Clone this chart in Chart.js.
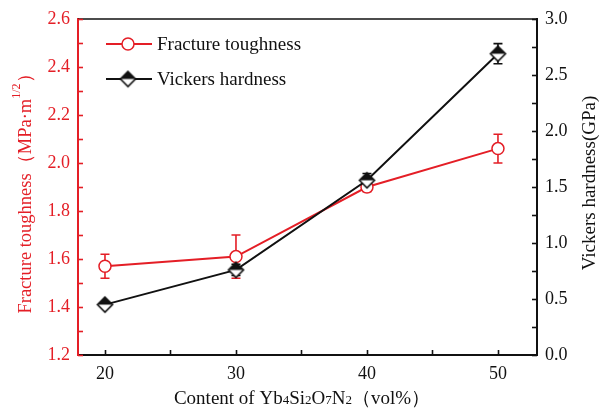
<!DOCTYPE html>
<html><head><meta charset="utf-8">
<script src="https://cdn.jsdelivr.net/npm/chart.js@4"></script>
<style>html,body{margin:0;padding:0;background:#fff}#wrap{width:605px;height:410px}</style>
</head><body><div id="wrap"><canvas id="c" width="605" height="410"></canvas></div>
<script>
const contents = [20, 30, 40, 50];
const toughness = [1.57, 1.61, 1.90, 2.06];
const toughnessErr = [0.05, 0.09, 0.02, 0.06];
const hardness = [0.45, 0.76, 1.56, 2.69];
const hardnessErr = [0.02, 0.05, 0.06, 0.09];
const xTicks = [20, 25, 30, 35, 40, 45, 50];
const xLabels = ['20', '', '30', '', '40', '', '50'];
const leftTicks = [1.2, 1.3, 1.4, 1.5, 1.6, 1.7, 1.8, 1.9, 2.0, 2.1, 2.2, 2.3, 2.4, 2.5, 2.6];
const leftLabels = ['1.2', '', '1.4', '', '1.6', '', '1.8', '', '2.0', '', '2.2', '', '2.4', '', '2.6'];
const rightTicks = [0, 0.25, 0.5, 0.75, 1.0, 1.25, 1.5, 1.75, 2.0, 2.25, 2.5, 2.75, 3.0];
const rightLabels = ['0.0', '', '0.5', '', '1.0', '', '1.5', '', '2.0', '', '2.5', '', '3.0'];
const seriesNames = ['Fracture toughness', 'Vickers hardness'];

const RED = 'rgb(228,30,38)';
const BLACK = '#111';
const SERIF = '"Liberation Serif", "Times New Roman", serif';

function makeDiamond(r) {
  const s = 2 * r + 4;
  const cv = document.createElement('canvas');
  cv.width = s; cv.height = s;
  const c = cv.getContext('2d');
  const m = s / 2;
  c.beginPath();
  c.moveTo(m, m - r); c.lineTo(m + r, m); c.lineTo(m, m + r); c.lineTo(m - r, m); c.closePath();
  c.fillStyle = '#fff'; c.fill();
  c.beginPath();
  c.moveTo(m, m - r); c.lineTo(m + r, m); c.lineTo(m - r, m); c.closePath();
  c.fillStyle = BLACK; c.fill();
  c.beginPath();
  c.moveTo(m, m - r); c.lineTo(m + r, m); c.lineTo(m, m + r); c.lineTo(m - r, m); c.closePath();
  c.lineWidth = 1.6; c.strokeStyle = BLACK; c.stroke();
  return cv;
}
const diamond = makeDiamond(7.5);

const errorBars = {
  id: 'errorBars',
  beforeDatasetsDraw(chart) {
    const ctx = chart.ctx;
    const xs = chart.scales.x;
    chart.data.datasets.forEach(ds => {
      const ys = chart.scales[ds.yAxisID];
      ctx.save();
      ctx.strokeStyle = ds.borderColor;
      ctx.lineWidth = 1.6;
      ds.data.forEach((p, i) => {
        const e = ds.errors[i];
        const px = xs.getPixelForValue(p.x);
        const t = ys.getPixelForValue(p.y + e);
        const b = ys.getPixelForValue(p.y - e);
        ctx.beginPath();
        ctx.moveTo(px, t); ctx.lineTo(px, b);
        ctx.moveTo(px - 4.5, t); ctx.lineTo(px + 4.5, t);
        ctx.moveTo(px - 4.5, b); ctx.lineTo(px + 4.5, b);
        ctx.stroke();
      });
      ctx.restore();
    });
  }
};

const inwardTicks = {
  id: 'inwardTicks',
  afterDraw(chart) {
    const ctx = chart.ctx;
    const a = chart.chartArea;
    const L = 5;
    ctx.save();
    ctx.lineWidth = 1.6;
    ctx.strokeStyle = BLACK;
    ctx.beginPath(); ctx.moveTo(a.left, a.top); ctx.lineTo(a.right, a.top); ctx.stroke();
    const xs = chart.scales.x;
    xs.ticks.forEach(t => {
      const px = Math.round(xs.getPixelForValue(t.value)) + 0.5;
      ctx.beginPath(); ctx.moveTo(px, a.bottom); ctx.lineTo(px, a.bottom - L); ctx.stroke();
    });
    const yr = chart.scales.y1;
    yr.ticks.forEach(t => {
      const py = Math.round(yr.getPixelForValue(t.value)) + 0.5;
      ctx.beginPath(); ctx.moveTo(a.right, py); ctx.lineTo(a.right - L, py); ctx.stroke();
    });
    ctx.strokeStyle = RED;
    const yl = chart.scales.y;
    yl.ticks.forEach(t => {
      const py = Math.round(yl.getPixelForValue(t.value)) + 0.5;
      ctx.beginPath(); ctx.moveTo(a.left, py); ctx.lineTo(a.left + L, py); ctx.stroke();
    });
    ctx.restore();
  }
};

const legendAndTitles = {
  id: 'legendAndTitles',
  afterDraw(chart) {
    const ctx = chart.ctx;
    const a = chart.chartArea;
    ctx.save();
    const rows = [{y: a.top + 25, color: RED, circle: true}, {y: a.top + 60, color: BLACK, circle: false}];
    rows.forEach((r, i) => {
      ctx.strokeStyle = r.color; ctx.lineWidth = 2;
      ctx.beginPath(); ctx.moveTo(a.left + 28, r.y); ctx.lineTo(a.left + 74, r.y); ctx.stroke();
      if (r.circle) {
        ctx.beginPath(); ctx.arc(a.left + 50, r.y, 6, 0, Math.PI * 2);
        ctx.fillStyle = '#fff'; ctx.fill(); ctx.lineWidth = 1.5; ctx.stroke();
      } else {
        ctx.drawImage(diamond, a.left + 50 - diamond.width / 2, r.y - diamond.height / 2);
      }
      ctx.fillStyle = BLACK;
      ctx.font = '19px ' + SERIF;
      ctx.textBaseline = 'middle'; ctx.textAlign = 'left';
      ctx.fillText(seriesNames[i], a.left + 79, r.y + 1);
    });

    ctx.save();
    ctx.translate(21, (a.top + a.bottom) / 2 + 2);
    ctx.rotate(-Math.PI / 2);
    ctx.fillStyle = RED;
    ctx.textBaseline = 'middle';
    const mainF = '18.5px ' + SERIF, supF = '12px ' + SERIF;
    const p1 = 'Fracture toughness（MPa·m', p2 = '1/2', p3 = '）';
    ctx.font = mainF; const w1 = ctx.measureText(p1).width; const w3 = ctx.measureText(p3).width;
    ctx.font = supF; const w2 = ctx.measureText(p2).width;
    let x0 = -(w1 + w2 + w3) / 2;
    ctx.textAlign = 'left';
    ctx.font = mainF; ctx.fillText(p1, x0, 5); x0 += w1;
    ctx.font = supF; ctx.fillText(p2, x0, -4); x0 += w2;
    ctx.font = mainF; ctx.fillText(p3, x0, 5);
    ctx.restore();

    ctx.save();
    ctx.translate(590, 183);
    ctx.rotate(-Math.PI / 2);
    ctx.fillStyle = BLACK; ctx.textAlign = 'center'; ctx.textBaseline = 'middle';
    ctx.font = '19px ' + SERIF;
    ctx.fillText('Vickers hardness(GPa)', 0, 0);
    ctx.restore();

    const parts = [['Content of Yb', 0], ['4', 1], ['Si', 0], ['2', 1], ['O', 0], ['7', 1], ['N', 0], ['2', 1], ['（vol%）', 0]];
    const big = '19px ' + SERIF, small = '13px ' + SERIF;
    let total = 0;
    parts.forEach(p => { ctx.font = p[1] ? small : big; total += ctx.measureText(p[0]).width; });
    let x = 302 - total / 2;
    ctx.fillStyle = BLACK; ctx.textAlign = 'left'; ctx.textBaseline = 'alphabetic';
    parts.forEach(p => {
      ctx.font = p[1] ? small : big;
      ctx.fillText(p[0], x, 404);
      x += ctx.measureText(p[0]).width;
    });
    ctx.restore();
  }
};

new Chart(document.getElementById('c'), {
  type: 'line',
  data: {
    datasets: [
      {
        label: seriesNames[0],
        data: contents.map((x, i) => ({x, y: toughness[i]})),
        errors: toughnessErr,
        yAxisID: 'y',
        borderColor: RED, borderWidth: 2,
        pointStyle: 'circle', pointRadius: 6, pointHoverRadius: 6,
        pointBackgroundColor: '#fff', pointBorderColor: RED, pointBorderWidth: 1.5,
        order: 1
      },
      {
        label: seriesNames[1],
        data: contents.map((x, i) => ({x, y: hardness[i]})),
        errors: hardnessErr,
        yAxisID: 'y1',
        borderColor: BLACK, borderWidth: 2,
        pointStyle: diamond, pointRadius: 7,
        order: 0
      }
    ]
  },
  options: {
    responsive: false, animation: false, devicePixelRatio: 1,
    layout: {padding: {left: 30, right: 28, top: 19, bottom: 25}},
    plugins: {legend: {display: false}, tooltip: {enabled: false}},
    scales: {
      x: {
        type: 'linear', min: 17.94, max: 52.98,
        afterBuildTicks: s => { s.ticks = xTicks.map(v => ({value: v})); },
        afterFit: s => { s.height = 30; },
        ticks: {autoSkip: false, maxRotation: 0, padding: 8, color: BLACK,
          font: {family: SERIF, size: 18}, callback: (v, i) => xLabels[i]},
        grid: {display: true, drawOnChartArea: false, drawTicks: false, color: 'rgba(0,0,0,0)'},
        border: {display: true, color: BLACK, width: 2}
      },
      y: {
        position: 'left', min: 1.2, max: 2.6,
        afterBuildTicks: s => { s.ticks = leftTicks.map(v => ({value: v})); },
        afterFit: s => { s.width = 48; },
        ticks: {autoSkip: false, padding: 8, color: RED,
          font: {family: SERIF, size: 18}, callback: (v, i) => leftLabels[i]},
        grid: {display: true, drawOnChartArea: false, drawTicks: false, color: 'rgba(0,0,0,0)'},
        border: {display: true, color: RED, width: 2}
      },
      y1: {
        position: 'right', min: 0, max: 3.0,
        afterBuildTicks: s => { s.ticks = rightTicks.map(v => ({value: v})); },
        afterFit: s => { s.width = 40; },
        ticks: {autoSkip: false, padding: 8, color: BLACK,
          font: {family: SERIF, size: 18}, callback: (v, i) => rightLabels[i]},
        grid: {display: true, drawOnChartArea: false, drawTicks: false, color: 'rgba(0,0,0,0)'},
        border: {display: true, color: BLACK, width: 2}
      }
    }
  },
  plugins: [errorBars, inwardTicks, legendAndTitles]
});
</script>
</body></html>
